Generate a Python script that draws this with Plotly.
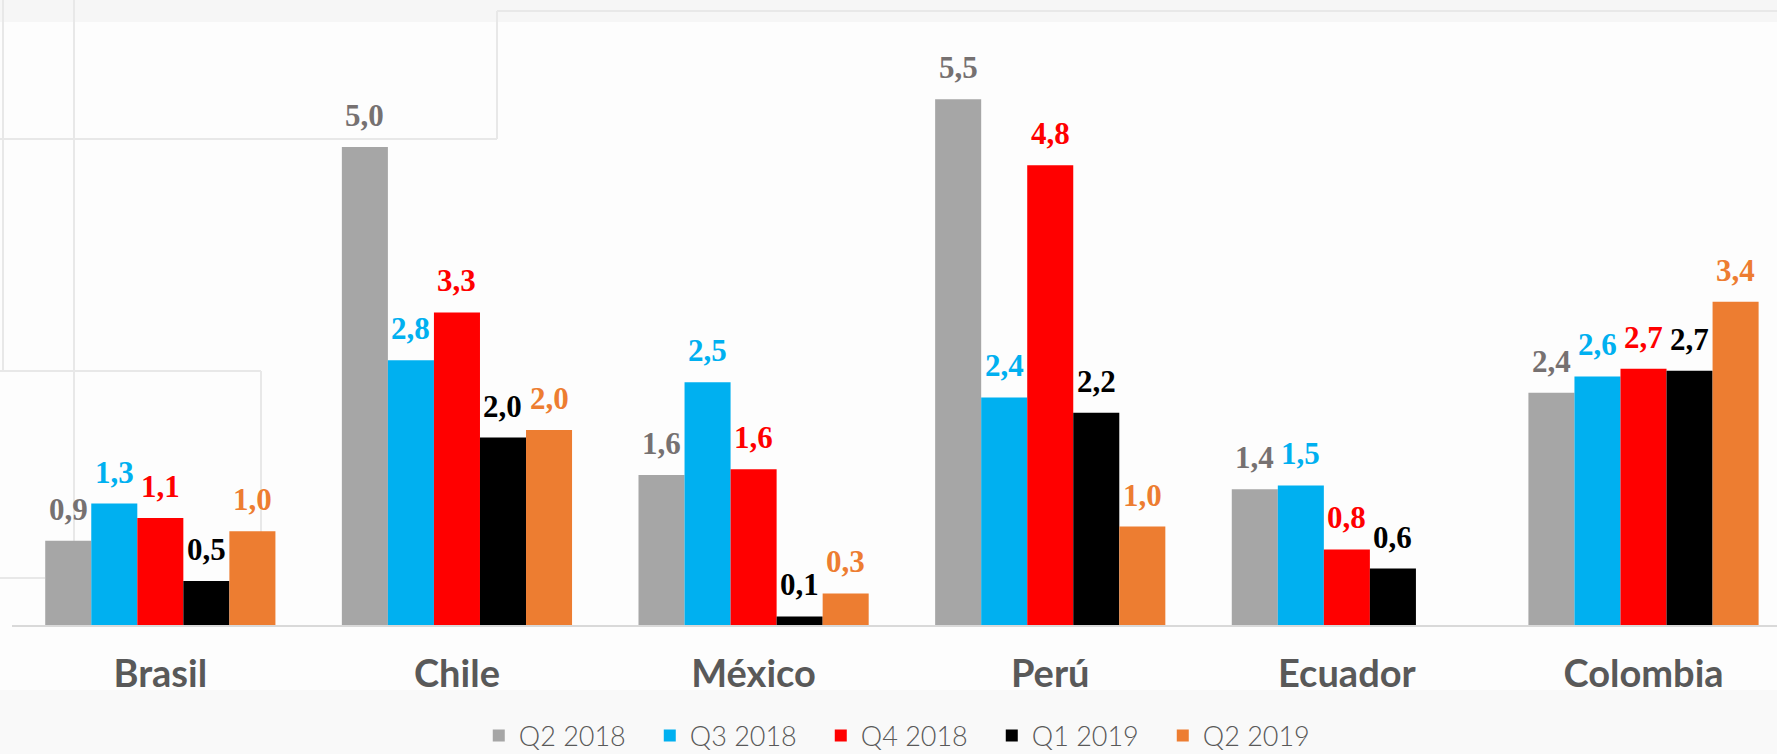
import plotly.graph_objects as go

countries = ["Brasil", "Chile", "México", "Perú", "Ecuador", "Colombia"]
series_names = ["Q2 2018", "Q3 2018", "Q4 2018", "Q1 2019", "Q2 2019"]
q2_2018 = [0.88, 5.0, 1.57, 5.5, 1.42, 2.43]
q3_2018 = [1.27, 2.77, 2.54, 2.38, 1.46, 2.6]
q4_2018 = [1.12, 3.27, 1.63, 4.81, 0.79, 2.68]
q1_2019 = [0.46, 1.96, 0.09, 2.22, 0.59, 2.66]
q2_2019 = [0.98, 2.04, 0.33, 1.03, None, 3.38]
series_values = [q2_2018, q3_2018, q4_2018, q1_2019, q2_2019]
bar_colors = ["#A6A6A6", "#00B0F0", "#FF0000", "#000000", "#ED7D31"]
label_colors = ["#767171", "#00B0F0", "#FF0000", "#000000", "#ED7D31"]

W, H = 1777, 754
base_py = 625
px_per_unit = 95.6
cat_px = (W - 12) / 5.95
bar_px = cat_px * (1 - 0.224) / 5

fig = go.Figure()
annotations = []
for i, (name, vals, bc, lc) in enumerate(zip(series_names, series_values, bar_colors, label_colors)):
    fig.add_trace(go.Bar(
        x=countries, y=vals, name=name,
        marker=dict(color=bc, line=dict(width=0)),
        hoverinfo="skip",
    ))
    for c, v in zip(countries, vals):
        if v is None:
            continue
        annotations.append(dict(
            x=c, y=v, xref="x", yref="y", showarrow=False,
            text=f"{v:.1f}".replace(".", ","),
            xshift=(i - 2) * bar_px, yshift=12, yanchor="bottom", xanchor="center",
            font=dict(family="Liberation Serif, DejaVu Serif, serif", size=31, color=lc, weight="bold"),
        ))

def hl(x0, x1, y):
    return dict(type="line", xref="paper", yref="paper", x0=x0 / W, x1=x1 / W,
                y0=1 - y / H, y1=1 - y / H, line=dict(color="#E8E8E8", width=2), layer="below")

def vl(x, y0, y1):
    return dict(type="line", xref="paper", yref="paper", x0=x / W, x1=x / W,
                y0=1 - y0 / H, y1=1 - y1 / H, line=dict(color="#E8E8E8", width=2), layer="below")

shapes = [
    dict(type="rect", xref="paper", yref="paper", x0=0, x1=1, y0=1 - 22 / H, y1=1,
         fillcolor="#F6F6F6", line=dict(width=0), layer="below"),
    dict(type="rect", xref="paper", yref="paper", x0=0, x1=1, y0=0, y1=1 - 690 / H,
         fillcolor="#F9F9F9", line=dict(width=0), layer="below"),
    hl(0, 497, 139), vl(497, 139, 11), hl(497, W, 11),
    vl(3, 0, 371), vl(74, 0, 625),
    hl(0, 261, 371), vl(261, 371, 625),
    hl(0, 45, 578),
]

fig.update_layout(
    width=W, height=H,
    margin=dict(l=0, r=0, t=0, b=0, autoexpand=False),
    paper_bgcolor="#FDFDFD", plot_bgcolor="rgba(0,0,0,0)",
    barmode="group", bargap=0.224, bargroupgap=0,
    showlegend=True,
    hovermode=False,
    legend=dict(orientation="h", x=0.51, xanchor="center", y=1 - 736 / H, yanchor="middle",
                font=dict(family="Lato, Roboto, sans-serif", size=27, color="#595959", weight=300),
                entrywidth=126, bgcolor="rgba(0,0,0,0)", itemclick=False, itemdoubleclick=False),
    xaxis=dict(domain=[12 / W, 1], range=[-0.5, 5.45], showgrid=False, zeroline=False,
               showline=True, linecolor="#D9D9D9", linewidth=2,
               ticks="outside", ticklen=0, ticklabelstandoff=14,
               tickfont=dict(family="Lato, sans-serif", size=38, color="#595959", weight="bold")),
    yaxis=dict(domain=[1 - base_py / H, 1], range=[0, base_py / px_per_unit], visible=False),
    shapes=shapes,
    annotations=annotations,
)

fig.write_html("out.html", config={"displayModeBar": False},
               post_script="document.body.style.margin='0';document.body.style.overflow='hidden';")
